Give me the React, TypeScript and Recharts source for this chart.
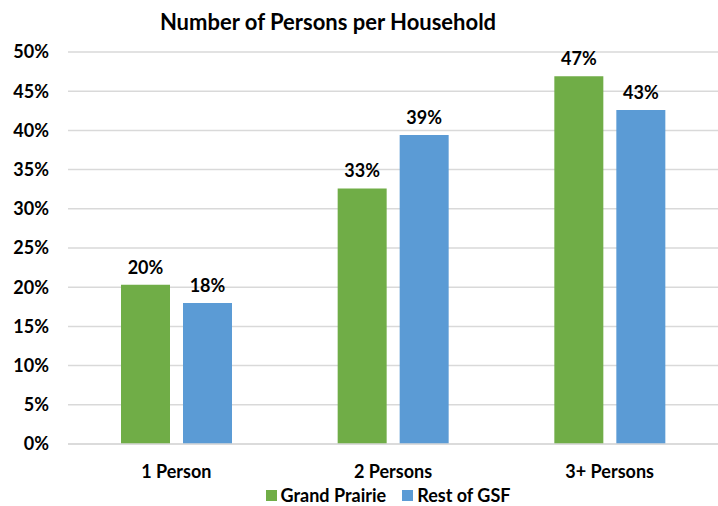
import { BarChart, Bar, XAxis, YAxis, CartesianGrid, Legend, LabelList } from 'recharts'

const categories = ['1 Person', '2 Persons', '3+ Persons']
const grandPrairie = [20.3, 32.6, 46.9]
const restOfGsf = [18.0, 39.4, 42.6]
const yTicks = [0, 5, 10, 15, 20, 25, 30, 35, 40, 45, 50]

const GREEN = '#70AD47'
const BLUE = '#5B9BD5'
const FONT = 'Lato, "Open Sans", sans-serif'
const textStyle = { fill: '#000', fontFamily: FONT, fontWeight: 700, fontSize: 18 }

const data = categories.map((name, i) => ({
  name,
  grandPrairie: grandPrairie[i],
  restOfGsf: restOfGsf[i],
}))

const pct = (v: any) => `${Math.round(Number(v))}%`

const renderLegend = () => (
  <div
    style={{
      display: 'flex',
      justifyContent: 'center',
      gap: 16,
      fontFamily: FONT,
      fontWeight: 700,
      fontSize: 18,
      color: '#000',
      paddingLeft: 58,
    }}
  >
    {[
      { label: 'Grand Prairie', color: GREEN },
      { label: 'Rest of GSF', color: BLUE },
    ].map((item) => (
      <span key={item.label} style={{ display: 'flex', alignItems: 'center' }}>
        <span
          style={{
            display: 'inline-block',
            width: 11,
            height: 11,
            background: item.color,
            marginRight: 4,
          }}
        />
        {item.label}
      </span>
    ))}
  </div>
)

export default function App() {
  return (
    <div style={{ position: 'absolute', left: 0, top: 0, width: 718, height: 506, background: '#fff' }}>
      <div
        style={{
          position: 'absolute',
          left: 0,
          width: 656,
          top: 8,
          textAlign: 'center',
          fontFamily: FONT,
          fontWeight: 700,
          fontSize: 22,
          color: '#000',
        }}
      >
        Number of Persons per Household
      </div>
      <BarChart
        width={718}
        height={506}
        data={data}
        margin={{ top: 52, right: 0, bottom: 0, left: 0 }}
        barSize={49}
        barGap={13}
      >
        <CartesianGrid vertical={false} stroke="#d9d9d9" strokeWidth={1.5} />
        <XAxis
          dataKey="name"
          axisLine={{ stroke: '#d9d9d9', strokeWidth: 1.5 }}
          tickLine={false}
          tickSize={0}
          tickMargin={21}
          height={40}
          tick={textStyle}
        />
        <YAxis
          domain={[0, 50]}
          ticks={yTicks}
          tickFormatter={(v) => `${v}%`}
          axisLine={false}
          tickLine={false}
          tickSize={0}
          tickMargin={19}
          width={68}
          tick={textStyle}
        />
        <Legend verticalAlign="bottom" height={22} content={renderLegend} />
        <Bar dataKey="grandPrairie" name="Grand Prairie" fill={GREEN} isAnimationActive={false}>
          <LabelList dataKey="grandPrairie" position="top" offset={11} formatter={pct} style={textStyle} />
        </Bar>
        <Bar dataKey="restOfGsf" name="Rest of GSF" fill={BLUE} isAnimationActive={false}>
          <LabelList dataKey="restOfGsf" position="top" offset={11} formatter={pct} style={textStyle} />
        </Bar>
      </BarChart>
    </div>
  )
}
